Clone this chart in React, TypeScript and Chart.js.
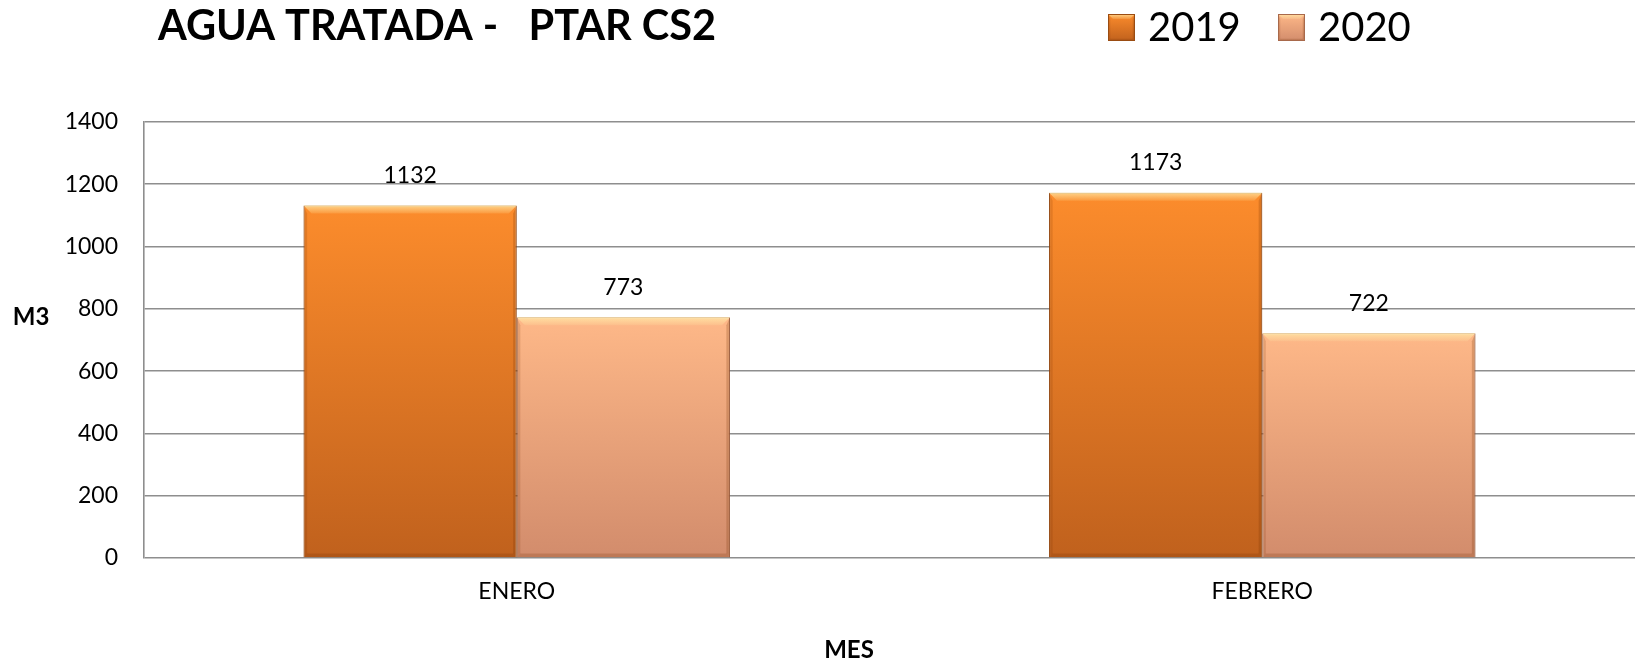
import React, { useEffect, useRef } from "react";
import { Chart, registerables } from "chart.js";

Chart.register(...registerables);

// ---- data ----
const categories = ["ENERO", "FEBRERO"];
const seriesNames = ["2019", "2020"];
const values2019 = [1132, 1173];
const values2020 = [773, 722];
const yMin = 0;
const yMax = 1400;
const yStep = 200;
const titleText = "AGUA TRATADA -   PTAR CS2";
const yAxisLabel = "M3";
const xAxisLabel = "MES";

// ---- style ----
const FONT = "Lato, 'Open Sans', sans-serif";
const palette = [
  { top: "#FC8C2C", bottom: "#C0611D", edge: "#9A4C12" },
  { top: "#FEB888", bottom: "#D28C6C", edge: "#A8694B" },
];
const GRID = "#8e8e8e";

function barGradient(top: string, bottom: string) {
  return (ctx: any) => {
    const chart = ctx.chart;
    const ys = chart.scales && chart.scales.y;
    if (!ys || ctx.type !== "data") return top;
    const y0 = ys.getPixelForValue(ctx.raw as number);
    const y1 = ys.getPixelForValue(0);
    if (!isFinite(y0) || !isFinite(y1) || y0 === y1) return top;
    const g = chart.ctx.createLinearGradient(0, y0, 0, y1);
    g.addColorStop(0, top);
    g.addColorStop(1, bottom);
    return g;
  };
}

function drawBevel(c: CanvasRenderingContext2D, l: number, t: number, r: number, b: number, bv: number) {
  // top highlight
  const hg = c.createLinearGradient(0, t, 0, t + bv);
  hg.addColorStop(0, "rgba(255,236,170,0.75)");
  hg.addColorStop(1, "rgba(255,236,170,0.15)");
  c.fillStyle = hg;
  c.beginPath();
  c.moveTo(l, t);
  c.lineTo(r, t);
  c.lineTo(r - bv, t + bv);
  c.lineTo(l + bv, t + bv);
  c.closePath();
  c.fill();
  // left shade
  c.fillStyle = "rgba(110,45,0,0.16)";
  c.beginPath();
  c.moveTo(l, t);
  c.lineTo(l + bv * 0.45, t + bv);
  c.lineTo(l + bv * 0.45, b - bv * 0.45);
  c.lineTo(l, b);
  c.closePath();
  c.fill();
  // right shade
  c.fillStyle = "rgba(110,45,0,0.22)";
  c.beginPath();
  c.moveTo(r, t);
  c.lineTo(r - bv * 0.45, t + bv);
  c.lineTo(r - bv * 0.45, b - bv * 0.45);
  c.lineTo(r, b);
  c.closePath();
  c.fill();
  // bottom shade
  c.fillStyle = "rgba(110,45,0,0.2)";
  c.beginPath();
  c.moveTo(l, b);
  c.lineTo(r, b);
  c.lineTo(r - bv * 0.45, b - bv * 0.45);
  c.lineTo(l + bv * 0.45, b - bv * 0.45);
  c.closePath();
  c.fill();
}

const decorPlugin = {
  id: "decor",
  afterDatasetsDraw(chart: any) {
    const c: CanvasRenderingContext2D = chart.ctx;
    c.save();
    chart.data.datasets.forEach((ds: any, i: number) => {
      const meta = chart.getDatasetMeta(i);
      meta.data.forEach((bar: any, j: number) => {
        const p = bar.getProps(["x", "y", "base", "width"], true);
        const l = p.x - p.width / 2;
        const r = p.x + p.width / 2;
        drawBevel(c, l, p.y, r, p.base, 8);
        // data label
        c.fillStyle = "#000";
        c.font = `23px ${FONT}`;
        c.textAlign = "center";
        c.textBaseline = "middle";
        c.fillText(String(ds.data[j]), p.x, p.y - 30);
      });
    });
    c.restore();
  },
  afterDraw(chart: any) {
    const c: CanvasRenderingContext2D = chart.ctx;
    c.save();
    // title
    c.fillStyle = "#000";
    c.font = `bold 41.5px ${FONT}`;
    c.textAlign = "left";
    c.textBaseline = "middle";
    c.fillText(titleText, 158, 27);
    // legend
    const legendX = [1108, 1278];
    seriesNames.forEach((name, i) => {
      const x = legendX[i];
      const y = 14;
      const s = 27;
      const g = c.createLinearGradient(0, y, 0, y + s);
      g.addColorStop(0, palette[i].top);
      g.addColorStop(1, palette[i].bottom);
      c.fillStyle = g;
      c.fillRect(x, y, s, s);
      drawBevel(c, x, y, x + s, y + s, 5);
      c.strokeStyle = palette[i].edge;
      c.lineWidth = 1;
      c.strokeRect(x + 0.5, y + 0.5, s - 1, s - 1);
      c.fillStyle = "#000";
      c.font = `40px ${FONT}`;
      c.textAlign = "left";
      c.textBaseline = "middle";
      c.fillText(name, x + 40, 28);
    });
    // axis titles
    c.font = `bold 24px ${FONT}`;
    c.textAlign = "center";
    c.textBaseline = "middle";
    c.fillText(yAxisLabel, 31, 317);
    c.fillText(xAxisLabel, 849, 650);
    c.restore();
  },
};

export default function App() {
  const ref = useRef<HTMLCanvasElement | null>(null);
  useEffect(() => {
    if (!ref.current) return;
    const chart = new Chart(ref.current, {
      type: "bar",
      data: {
        labels: categories,
        datasets: [
          {
            label: seriesNames[0],
            data: values2019,
            backgroundColor: barGradient(palette[0].top, palette[0].bottom),
            borderColor: palette[0].edge,
            borderWidth: 1,
          },
          {
            label: seriesNames[1],
            data: values2020,
            backgroundColor: barGradient(palette[1].top, palette[1].bottom),
            borderColor: palette[1].edge,
            borderWidth: 1,
          },
        ],
      },
      options: {
        animation: false,
        responsive: true,
        maintainAspectRatio: false,
        layout: { padding: { top: 122, left: 0, right: 1, bottom: 0 } },
        plugins: {
          legend: { display: false },
          title: { display: false },
          tooltip: { enabled: false },
        },
        datasets: {
          bar: { categoryPercentage: 0.572, barPercentage: 1 },
        },
        scales: {
          x: {
            grid: { display: false, drawTicks: false },
            border: { display: false },
            ticks: { color: "#000", font: { family: FONT, size: 23 }, padding: 20 },
            afterFit(scale: any) {
              scale.height = 663 - 558;
              scale.paddingLeft = 0;
              scale.paddingRight = 0;
            },
          },
          y: {
            min: yMin,
            max: yMax,
            ticks: {
              stepSize: yStep,
              color: "#000",
              font: { family: FONT, size: 23 },
              padding: 26,
              callback: (v: any) => String(v),
            },
            grid: { color: GRID, lineWidth: 1.6, drawTicks: false },
            border: { display: true, color: GRID, width: 1.6 },
            afterFit(scale: any) {
              scale.width = 144;
              scale.paddingTop = 0;
              scale.paddingBottom = 0;
            },
          },
        },
      },
      plugins: [decorPlugin],
    });
    return () => chart.destroy();
  }, []);
  return (
    <div style={{ position: "fixed", left: 0, top: 0, width: 1636, height: 663, background: "#fff" }}>
      <canvas ref={ref} />
    </div>
  );
}
